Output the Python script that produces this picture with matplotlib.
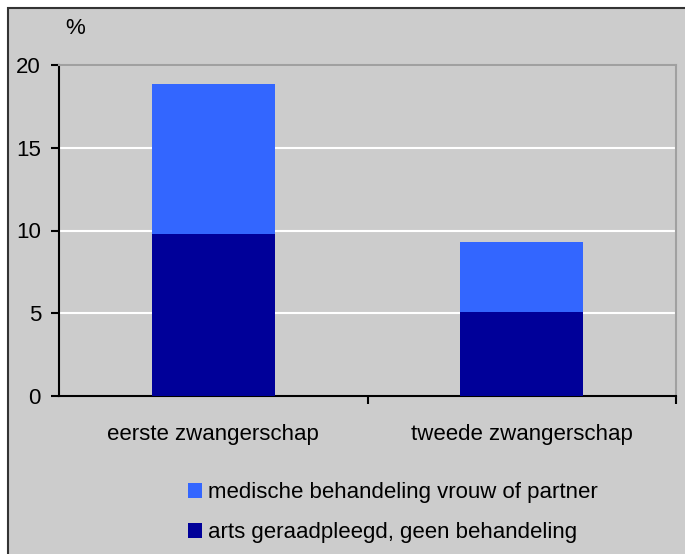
import numpy as np
import matplotlib.pyplot as plt
from matplotlib.patches import Rectangle

plt.rcParams['font.family'] = ['Liberation Sans', 'DejaVu Sans']

categories = ['eerste zwangerschap', 'tweede zwangerschap']
arts = [9.8, 5.1]
medisch = [9.05, 4.2]
labels = ['medische behandeling vrouw of partner', 'arts geraadpleegd, geen behandeling']

bg = '#cccccc'
light = '#3366ff'
dark = '#000099'
fs = 16

fig = plt.figure(figsize=(6.85, 5.54), dpi=100)
fig.patch.set_facecolor('white')
# chart area background with border on top/left
fig.patches.append(Rectangle((8/685, -0.01), 1.0, 1.01 - 8/554, transform=fig.transFigure,
                             facecolor=bg, edgecolor='#333333', linewidth=1.5, zorder=-1))

ax = fig.add_axes([59/685, 1 - 396/554, (676 - 59)/685, (396 - 65)/554])
ax.set_facecolor(bg)

x = np.arange(len(categories))
b1 = ax.bar(x, arts, width=0.4, color=dark, zorder=3)
b2 = ax.bar(x, medisch, bottom=arts, width=0.4, color=light, zorder=3)

ax.set_xlim(-0.5, 1.5)
ax.set_ylim(0, 20)
ax.set_yticks([0, 5, 10, 15, 20])
ax.yaxis.grid(True, color='white', linewidth=1.5, zorder=1)
ax.set_axisbelow(True)

ax.set_xticks(x)
ax.set_xticklabels(categories, fontsize=fs)
ax.tick_params(axis='x', length=0, pad=20)
ax.set_xticks([0.5, 1.5], minor=True)
ax.tick_params(axis='x', which='minor', length=6, width=1.5, color='black')
ax.tick_params(axis='y', labelsize=fs, length=6, width=1.5, pad=7)

for s in ['top', 'right']:
    ax.spines[s].set_color('#a0a0a0')
    ax.spines[s].set_linewidth(1.5)
for s in ['left', 'bottom']:
    ax.spines[s].set_color('black')
    ax.spines[s].set_linewidth(1.5)

fig.text(75/685, 1 - 28/554, '%', fontsize=fs, ha='center', va='center')

fig.legend([b2, b1], labels, loc='upper left', bbox_to_anchor=(188/685, 1 - 482/554),
           frameon=False, fontsize=fs, handlelength=0.65, handleheight=0.65,
           handletextpad=0.25, labelspacing=0.85, borderpad=0, borderaxespad=0)

fig.savefig('out.png', dpi=100)
